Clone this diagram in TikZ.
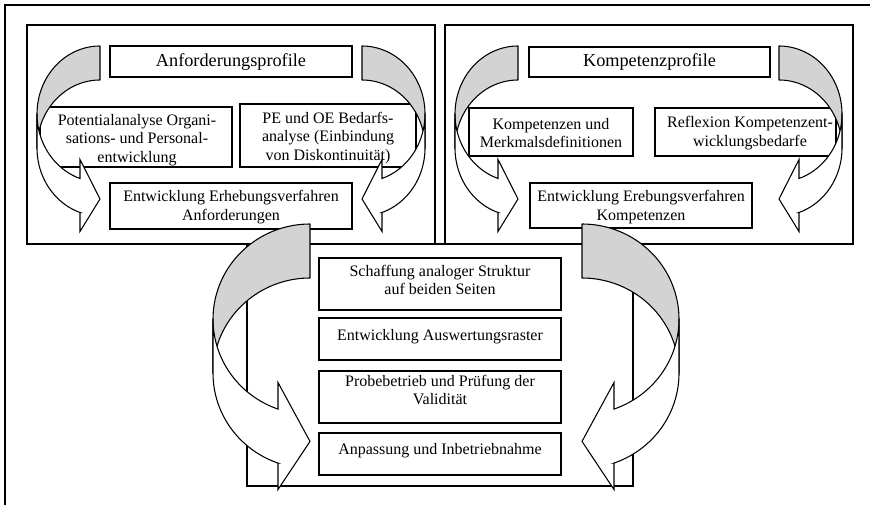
\documentclass[tikz,border=0pt]{standalone}
\usepackage{fontspec}
\setmainfont{Liberation Serif}
\usetikzlibrary{fit}
\definecolor{arrgray}{RGB}{211,211,211}
\tikzset{
  box/.style={draw, line width=0.8pt, inner sep=0pt},
  txt/.style={align=center, font=\fontsize{12}{13.8}\selectfont, inner sep=0pt},
  ttl/.style={align=center, font=\fontsize{13.7}{16}\selectfont, inner sep=0pt},
  backarr/.style={fill=arrgray, draw=black, line width=0.8pt, line join=round},
  frontarr/.style={fill=white, draw=black, line width=0.8pt, line join=miter},
  frame/.style={draw=black, line width=1.1pt}
}
% #1 x of end, #2 top, #3 width, #4 vertical radius, #5 thickness, #6 head length, #7 head overhang, #8 direction
\newcommand\curvarr[8]{%
 \begin{scope}[shift={(#1,#2)}, xscale=#8]
  \pgfmathsetmacro\cw{#3}
  \pgfmathsetmacro\chr{#4}
  \pgfmathsetmacro\cth{#5}
  \pgfmathsetmacro\cah{#6}
  \pgfmathsetmacro\cdh{#7}
  \pgfmathsetmacro\tone{acos(-\cah/\cw)}
  \pgfmathsetmacro\yfive{\chr+\chr*sin(\tone)}
  \pgfmathsetmacro\yseven{\yfive+\cth}
  \pgfmathsetmacro\tipy{2*\chr+\cth/2}
  \filldraw[backarr] plot[domain=270:180,samples=40] ({\cw*cos(\x)},{\chr+\chr*sin(\x)})
     -- plot[domain=180:270,samples=40] ({\cw*cos(\x)},{\chr+\cth+\chr*sin(\x)}) -- cycle;
  \filldraw[frontarr] plot[domain=180:\tone,samples=40] ({\cw*cos(\x)},{\chr+\chr*sin(\x)})
     -- (-\cah,\yfive-\cdh) -- (0,\tipy) -- (-\cah,\yseven+\cdh) -- (-\cah,\yseven)
     -- plot[domain=\tone:180,samples=40] ({\cw*cos(\x)},{\chr+\cth+\chr*sin(\x)}) -- cycle;
 \end{scope}}
\newcommand\bx[5]{\node[box, fit={(#2,#3) (#4,#5)}] (#1) {};}
\begin{document}
\begin{tikzpicture}[x=0.75pt,y=-0.75pt]
\useasboundingbox (0,0) rectangle (870,505);
% outer frame
\coordinate (fbl) at (5,505);
\coordinate (ftl) at (5,5);
\coordinate (ftr) at (870,5);
\draw[frame] (fbl) -- (ftl) -- (ftr);
% group boxes
\bx{gl}{27}{25}{435}{244}
\bx{gr}{445}{25}{853}{244}
\bx{gb}{247}{244}{633}{486}
% left group boxes
\bx{b1}{110}{46}{352}{77}
\bx{b2}{40}{107}{232}{167}
\bx{b3}{240}{104}{416}{167}
\bx{b4}{110}{183}{352}{229}
% right group boxes
\bx{b5}{529}{47}{770}{77}
\bx{b6}{469}{108}{633}{156}
\bx{b7}{655}{108}{836}{156}
\bx{b8}{530}{183}{752}{228}
% bottom group boxes
\bx{b9}{319}{258}{561}{310}
\bx{b10}{319}{318}{561}{360}
\bx{b11}{319}{371}{561}{423}
\bx{b12}{319}{433}{561}{475}
% curved arrows
\curvarr{100}{46}{63}{68}{34}{20}{19}{1}
\curvarr{362}{46}{63}{68}{34}{20}{19}{-1}
\curvarr{518}{46}{63}{68}{34}{20}{19}{1}
\curvarr{779}{46}{63}{68}{34}{20}{19}{-1}
\curvarr{310}{224}{97}{95.2}{54}{32}{26.5}{1}
\curvarr{582}{224}{97}{95.2}{54}{32}{26.5}{-1}
% texts
\node[ttl] (t1) at (231,62) {Anforderungsprofile};
\node[txt] (t2) at (137,140) {Potentialanalyse Organi-\\sations- und Personal-\\entwicklung};
\node[txt] (t3) at (328,138) {PE und OE Bedarfs-\\analyse (Einbindung\\von Diskontinuität)};
\node[txt] (t4) at (231,207) {Entwicklung Erhebungsverfahren\\Anforderungen};
\node[ttl] (t5) at (649.5,62) {Kompetenzprofile};
\node[txt] (t6) at (551,133) {Kompetenzen und\\Merkmalsdefinitionen};
\node[txt] (t7) at (750,133) {Reflexion Kompetenzent-\\wicklungsbedarfe};
\node[txt] (t8) at (641,207) {Entwicklung Erebungsverfahren\\Kompetenzen};
\node[txt] (t9) at (440,280) {Schaffung analoger Struktur\\auf beiden Seiten};
\node[txt] (t10) at (440,337) {Entwicklung Auswertungsraster};
\node[txt] (t11) at (440,390) {Probebetrieb und Prüfung der\\Validität};
\node[txt] (t12) at (440,451) {Anpassung und Inbetriebnahme};
\end{tikzpicture}
\end{document}
